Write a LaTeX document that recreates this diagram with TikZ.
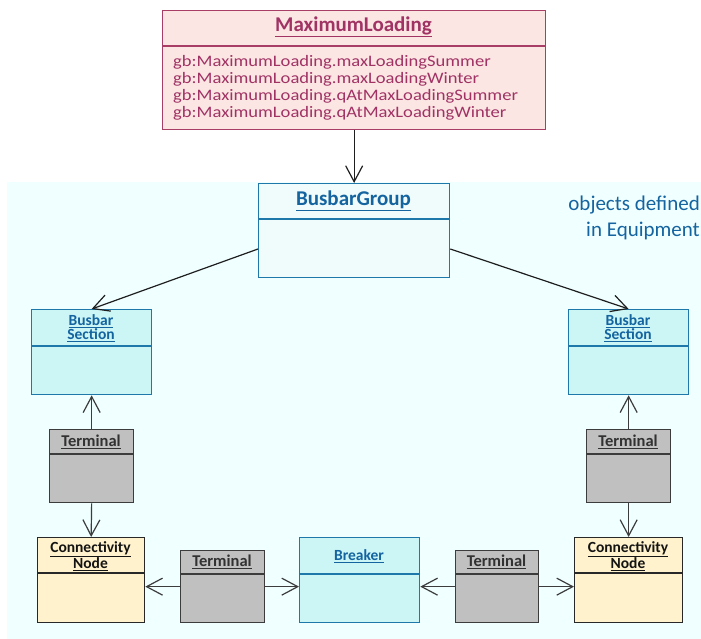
\documentclass[tikz,border=0pt]{standalone}
\usepackage{fontspec}
\setmainfont{Carlito}
\newfontfamily\attrfont[FakeStretch=1.16]{Carlito}
\usetikzlibrary{arrows.meta,calc}
\definecolor{panelfill}{RGB}{240,255,255}
\definecolor{mlfill}{RGB}{252,230,228}
\definecolor{mldraw}{RGB}{168,62,102}
\definecolor{mltext}{RGB}{160,50,100}
\definecolor{bgfill}{RGB}{240,251,252}
\definecolor{bluedraw}{RGB}{30,120,170}
\definecolor{bluetext}{RGB}{20,100,160}
\definecolor{cyanfill}{RGB}{204,245,245}
\definecolor{termfill}{RGB}{192,192,192}
\definecolor{termdraw}{RGB}{60,60,60}
\definecolor{termtext}{RGB}{50,50,50}
\definecolor{cnfill}{RGB}{255,242,204}
\definecolor{cndraw}{RGB}{40,40,40}
\definecolor{cntext}{RGB}{20,20,20}
\definecolor{linecol}{RGB}{30,30,30}
\begin{document}
\begin{tikzpicture}[x=1pt,y=-1pt,
  umlbox/.style={rectangle, inner sep=0pt, anchor=north west, line width=1.3pt},
  mlbox/.style={umlbox, draw=mldraw, fill=mlfill},
  bluebox/.style={umlbox, draw=bluedraw, fill=cyanfill},
  termbox/.style={umlbox, draw=termdraw, fill=termfill},
  cnbox/.style={umlbox, draw=cndraw, fill=cnfill},
  bigtitle/.style={inner sep=0pt, font=\fontsize{21}{24}\bfseries\selectfont},
  smalltitle/.style={inner sep=0pt, align=center, font=\fontsize{15.5}{14}\bfseries\selectfont},
  termtitle/.style={smalltitle, text=termtext, font=\fontsize{16.5}{14}\bfseries\selectfont},
  conn/.style={draw=linecol, line width=1.2pt, -{Straight Barb[length=16pt,width=17pt]}},
  tconn/.style={conn, draw=termdraw}
]
\useasboundingbox (0,0) rectangle (701,639);
\fill[panelfill] (7,182) rectangle (701,639);

% MaximumLoading
\node[mlbox, minimum width=383pt, minimum height=119pt] (ml) at (162,10) {};
\draw[mldraw, line width=1.3pt] ($(ml.north west)+(0,36)$) coordinate (mld) -- (mld -| ml.east);
\node[bigtitle, text=mltext] (mlt) at (353.5,27) {\underline{MaximumLoading}};
\node[inner sep=0pt, anchor=north west, align=left, text=mltext,
  font=\attrfont\fontsize{16}{17}\selectfont] (mla) at (173,55)
  {gb:MaximumLoading.maxLoadingSummer\\gb:MaximumLoading.maxLoadingWinter\\gb:MaximumLoading.qAtMaxLoadingSummer\\gb:MaximumLoading.qAtMaxLoadingWinter};

% note
\node[inner sep=0pt, anchor=north east, align=right, text=bluetext,
  font=\fontsize{21}{26}\selectfont] (note) at (700,196) {objects defined\\in Equipment};

% BusbarGroup
\node[umlbox, draw=bluedraw, fill=bgfill, minimum width=191pt, minimum height=94pt] (bg) at (258,183) {};
\draw[bluedraw, line width=1.3pt] ($(bg.north west)+(0,36)$) coordinate (bgd) -- (bgd -| bg.east);
\node[bigtitle, text=bluetext] (bgt) at (353.5,201) {\underline{BusbarGroup}};

% Busbar sections
\node[bluebox, minimum width=120pt, minimum height=85pt] (bsl) at (31,309) {};
\draw[bluedraw, line width=1.3pt] ($(bsl.north west)+(0,37)$) coordinate (bsld) -- (bsld -| bsl.east);
\node[smalltitle, text=bluetext] (bslt) at (91,328) {\underline{Busbar}\\\underline{Section}};
\node[bluebox, minimum width=120pt, minimum height=85pt] (bsr) at (568,309) {};
\draw[bluedraw, line width=1.3pt] ($(bsr.north west)+(0,37)$) coordinate (bsrd) -- (bsrd -| bsr.east);
\node[smalltitle, text=bluetext] (bsrt) at (628,328) {\underline{Busbar}\\\underline{Section}};

% Upper terminals
\node[termbox, minimum width=84pt, minimum height=73pt] (tl) at (49,429) {};
\draw[termdraw, line width=1.3pt] ($(tl.north west)+(0,25)$) coordinate (tld) -- (tld -| tl.east);
\node[termtitle] (tlt) at (91,442) {\underline{Terminal}};
\node[termbox, minimum width=84pt, minimum height=73pt] (tr) at (586,429) {};
\draw[termdraw, line width=1.3pt] ($(tr.north west)+(0,25)$) coordinate (trd) -- (trd -| tr.east);
\node[termtitle] (trt) at (628,442) {\underline{Terminal}};

% Connectivity nodes
\node[cnbox, minimum width=107pt, minimum height=85pt] (cnl) at (37,537) {};
\draw[cndraw, line width=1.3pt] ($(cnl.north west)+(0,36)$) coordinate (cnld) -- (cnld -| cnl.east);
\node[smalltitle, text=cntext] (cnlt) at (90.5,556) {\underline{Connectivity}\\\underline{Node}};
\node[cnbox, minimum width=108pt, minimum height=85pt] (cnr) at (574,537) {};
\draw[cndraw, line width=1.3pt] ($(cnr.north west)+(0,36)$) coordinate (cnrd) -- (cnrd -| cnr.east);
\node[smalltitle, text=cntext] (cnrt) at (628,556) {\underline{Connectivity}\\\underline{Node}};

% Lower terminals
\node[termbox, minimum width=84pt, minimum height=72pt] (tbl) at (180,550) {};
\draw[termdraw, line width=1.3pt] ($(tbl.north west)+(0,24)$) coordinate (tbld) -- (tbld -| tbl.east);
\node[termtitle] (tblt) at (222,562) {\underline{Terminal}};
\node[termbox, minimum width=83pt, minimum height=72pt] (tbr) at (455,550) {};
\draw[termdraw, line width=1.3pt] ($(tbr.north west)+(0,24)$) coordinate (tbrd) -- (tbrd -| tbr.east);
\node[termtitle] (tbrt) at (496.5,562) {\underline{Terminal}};

% Breaker
\node[bluebox, minimum width=120pt, minimum height=85pt] (br) at (299,537) {};
\draw[bluedraw, line width=1.3pt] ($(br.north west)+(0,37)$) coordinate (brd) -- (brd -| br.east);
\node[smalltitle, text=bluetext] (brt) at (359,556) {\underline{Breaker}};

% Connectors
\draw[conn] (ml.south) -- (bg.north);
\coordinate (bgl) at ($(bg.north west)+(0,66)$);
\coordinate (bgr) at ($(bg.north east)+(0,66)$);
\draw[conn] (bgl) -- (bsl.north);
\draw[conn] (bgr) -- (bsr.north);
\draw[tconn] (tl.north) -- (bsl.south);
\draw[tconn] (tl.south) -- (cnl.north);
\draw[tconn] (tr.north) -- (bsr.south);
\draw[tconn] (tr.south) -- (cnr.north);
\draw[tconn] (tbl.west) -- (tbl.west -| cnl.east);
\draw[tconn] (tbl.east) -- (tbl.east -| br.west);
\draw[tconn] (tbr.west) -- (tbr.west -| br.east);
\draw[tconn] (tbr.east) -- (tbr.east -| cnr.west);
\end{tikzpicture}
\end{document}
